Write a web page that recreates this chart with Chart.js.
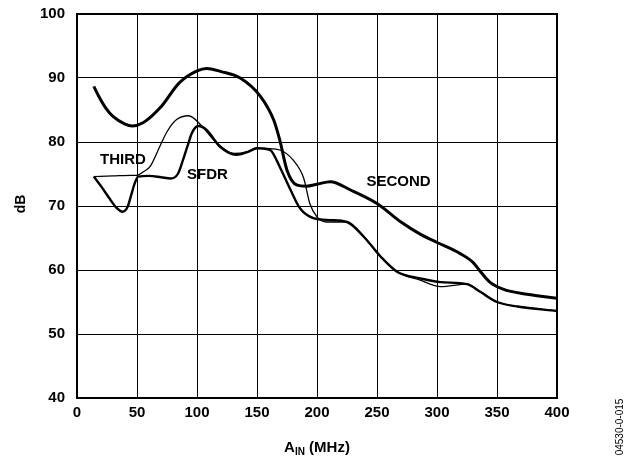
<!DOCTYPE html>
<html>
<head>
<meta charset="utf-8">
<script src="https://cdn.jsdelivr.net/npm/chart.js@4/dist/chart.umd.min.js"></script>
<style>
  html, body { margin: 0; padding: 0; background: #fff; }
  #wrap { width: 626px; height: 461px; }
</style>
</head>
<body>
<div id="wrap"><canvas id="chart" width="626" height="461"></canvas></div>
<script>
  // values (MHz, dB)
  const secondX = [14, 18, 24, 30, 40, 46, 55, 70, 85, 100, 108, 120, 136, 153, 164, 169, 175, 183, 191, 200, 211, 228, 250, 270, 286, 300, 319, 330, 336, 344, 355, 375, 400];
  const secondY = [88.7, 87.2, 85.3, 84, 82.8, 82.5, 83, 85.5, 89.2, 91.1, 91.5, 91, 90, 87.1, 83.4, 80.3, 75.6, 73.3, 73.1, 73.4, 73.8, 72.5, 70.4, 67.5, 65.6, 64.3, 62.6, 61.2, 59.8, 58.1, 57, 56.2, 55.6];

  const sfdrX = [14, 20, 27, 33, 38, 42, 45, 48, 51, 60, 70, 78, 84, 88, 92, 96, 101, 108, 119, 133, 143, 150, 158, 162, 169, 178, 186, 197, 211, 225, 239, 253, 267, 286, 303, 325, 336, 350, 367, 400];
  const sfdrY = [74.6, 73.1, 71.2, 69.7, 69.1, 69.8, 71.6, 73.5, 74.6, 74.7, 74.5, 74.3, 75, 77, 79.3, 81.5, 82.5, 81.9, 79.3, 78, 78.5, 79, 78.9, 78.6, 76.1, 72.5, 69.6, 68.1, 67.8, 67.5, 65.2, 62.1, 59.7, 58.7, 58.1, 57.8, 56.6, 55, 54.3, 53.6];

  const thirdX = [14, 30, 45, 50, 55, 61, 69, 75, 83, 93, 103, 114, 125, 131, 142, 150, 158, 169, 180, 189, 194, 200, 208, 225, 239, 253, 267, 286, 303, 325, 336, 350, 367, 400];
  const thirdY = [74.6, 74.7, 74.8, 74.8, 75.3, 76.2, 79.3, 81.6, 83.5, 84.1, 82.7, 80.3, 78.6, 78.2, 78.5, 79.1, 79, 78.75, 77.2, 74.3, 70.4, 68.3, 67.5, 67.5, 65.2, 62.1, 59.7, 58.4, 57.4, 57.8, 56.6, 55, 54.3, 53.6];

  const xTicks = [0, 50, 100, 150, 200, 250, 300, 350, 400];
  const yTicks = [40, 50, 60, 70, 80, 90, 100];

  // curve labels placed in data coords
  const curveLabels = [
    { text: "THIRD", x: 38.3, y: 77.2 },
    { text: "SFDR", x: 108.7, y: 74.8 },
    { text: "SECOND", x: 268, y: 73.8 }
  ];

  const FONT = "'Liberation Sans', Arial, sans-serif";

  function pts(xs, ys) {
    return xs.map((x, i) => ({ x: x, y: ys[i] }));
  }

  const annotate = {
    id: "annotate",
    afterDraw(chart) {
      const ctx = chart.ctx;
      const a = chart.chartArea;
      const xs = chart.scales.x, ys = chart.scales.y;
      ctx.save();
      // frame
      ctx.strokeStyle = "#000";
      ctx.lineWidth = 2;
      ctx.strokeRect(a.left, a.top, a.right - a.left, a.bottom - a.top);

      ctx.fillStyle = "#000";
      ctx.font = "bold 15px " + FONT;
      ctx.textBaseline = "middle";
      ctx.textAlign = "center";
      curveLabels.forEach(l => {
        ctx.fillText(l.text, xs.getPixelForValue(l.x), ys.getPixelForValue(l.y));
      });

      // x title A_IN (MHz)
      const big = "bold 15px " + FONT, small = "bold 10px " + FONT;
      ctx.textAlign = "left";
      ctx.textBaseline = "alphabetic";
      ctx.font = big; const wA = ctx.measureText("A").width;
      ctx.font = small; const wIN = ctx.measureText("IN").width;
      ctx.font = big; const wRest = ctx.measureText(" (MHz)").width;
      let tx = (a.left + a.right) / 2 - (wA + wIN + wRest) / 2;
      const by = 452;
      ctx.font = big; ctx.fillText("A", tx, by); tx += wA;
      ctx.font = small; ctx.fillText("IN", tx, by + 3); tx += wIN;
      ctx.font = big; ctx.fillText(" (MHz)", tx, by);

      // y title
      ctx.save();
      ctx.translate(21, 204);
      ctx.rotate(-Math.PI / 2);
      ctx.textAlign = "center";
      ctx.textBaseline = "middle";
      ctx.font = "bold 14px " + FONT;
      ctx.fillText("dB", 0, 0);
      ctx.restore();

      // figure id
      ctx.save();
      ctx.translate(620, 427);
      ctx.rotate(-Math.PI / 2);
      ctx.textAlign = "center";
      ctx.textBaseline = "middle";
      ctx.font = "10px " + FONT;
      ctx.fillText("04530-0-015", 0, 0);
      ctx.restore();

      ctx.restore();
    }
  };

  new Chart(document.getElementById("chart"), {
    type: "line",
    data: {
      datasets: [
        { label: "SECOND", data: pts(secondX, secondY), borderColor: "#000", borderWidth: 3 },
        { label: "SFDR", data: pts(sfdrX, sfdrY), borderColor: "#000", borderWidth: 2.4 },
        { label: "THIRD", data: pts(thirdX, thirdY), borderColor: "#000", borderWidth: 1.3 }
      ]
    },
    options: {
      responsive: false,
      animation: false,
      layout: { padding: { top: 14, right: 69, left: 0, bottom: 0 } },
      elements: {
        point: { radius: 0 },
        line: { cubicInterpolationMode: "monotone", fill: false }
      },
      plugins: { legend: { display: false }, tooltip: { enabled: false } },
      scales: {
        x: {
          type: "linear",
          min: xTicks[0],
          max: xTicks[xTicks.length - 1],
          afterBuildTicks: s => { s.ticks = xTicks.map(v => ({ value: v })); },
          afterFit: s => { s.height = 63; s.paddingLeft = 0; s.paddingRight = 0; },
          grid: { color: "#000", lineWidth: 1, drawTicks: false },
          border: { color: "#000", width: 2 },
          ticks: { color: "#000", padding: 6, maxRotation: 0, font: { family: FONT, size: 15, weight: "bold" } }
        },
        y: {
          min: yTicks[0],
          max: yTicks[yTicks.length - 1],
          afterBuildTicks: s => { s.ticks = yTicks.map(v => ({ value: v })); },
          afterFit: s => { s.width = 77; s.paddingTop = 0; s.paddingBottom = 0; },
          grid: { color: "#000", lineWidth: 1, drawTicks: false },
          border: { color: "#000", width: 2 },
          ticks: { color: "#000", padding: 12, font: { family: FONT, size: 15, weight: "bold" } }
        }
      }
    },
    plugins: [annotate]
  });
</script>
</body>
</html>
